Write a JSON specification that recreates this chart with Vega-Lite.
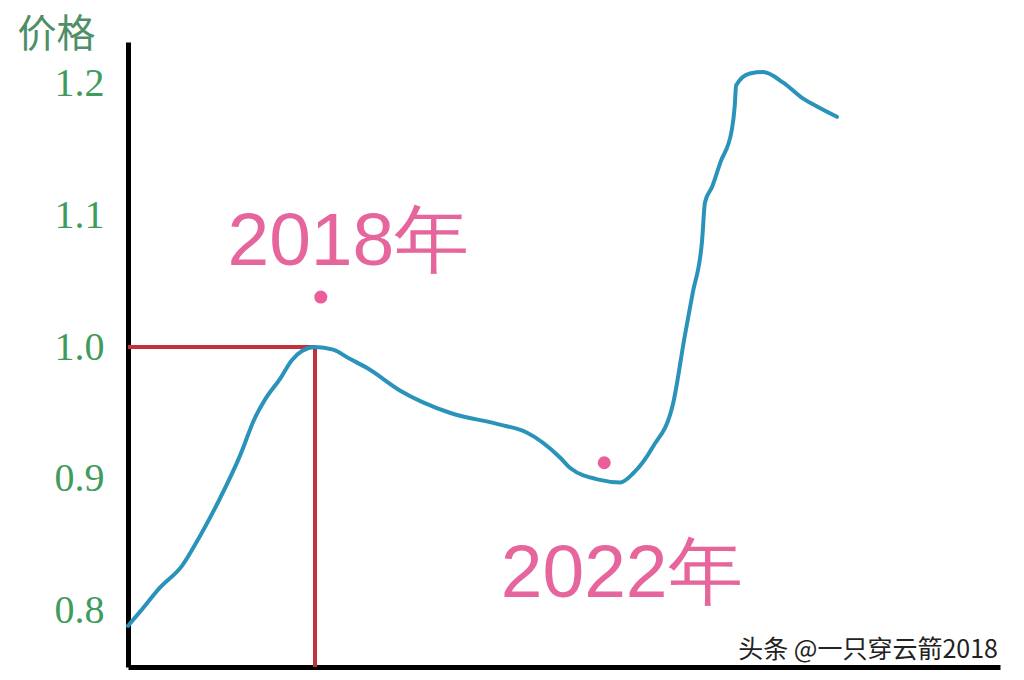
{
  "$schema": "https://vega.github.io/schema/vega-lite/v6.json",
  "description": "Hand-drawn style price curve, 2018 vs 2022.",
  "width": 872,
  "height": 625,
  "autosize": {"type": "none"},
  "padding": {"left": 128, "top": 42, "right": 24, "bottom": 13},
  "background": "#ffffff",
  "config": {"view": {"stroke": null}},
  "datasets": {
    "curve": [
      {"year": 2015.42, "price": 0.788},
      {"year": 2015.59, "price": 0.799},
      {"year": 2015.86, "price": 0.817},
      {"year": 2016.17, "price": 0.834},
      {"year": 2016.41, "price": 0.856},
      {"year": 2016.69, "price": 0.885},
      {"year": 2016.97, "price": 0.918},
      {"year": 2017.17, "price": 0.946},
      {"year": 2017.31, "price": 0.96},
      {"year": 2017.52, "price": 0.976},
      {"year": 2017.68, "price": 0.99},
      {"year": 2017.82, "price": 0.997},
      {"year": 2018.0, "price": 1.0},
      {"year": 2018.25, "price": 0.998},
      {"year": 2018.48, "price": 0.991},
      {"year": 2018.72, "price": 0.984},
      {"year": 2019.17, "price": 0.967},
      {"year": 2019.86, "price": 0.95},
      {"year": 2020.55, "price": 0.941},
      {"year": 2020.92, "price": 0.935},
      {"year": 2021.38, "price": 0.916},
      {"year": 2021.52, "price": 0.908},
      {"year": 2021.93, "price": 0.899},
      {"year": 2022.21, "price": 0.897},
      {"year": 2022.39, "price": 0.904},
      {"year": 2022.66, "price": 0.924},
      {"year": 2022.94, "price": 0.957},
      {"year": 2023.1, "price": 1.008},
      {"year": 2023.21, "price": 1.041},
      {"year": 2023.34, "price": 1.081},
      {"year": 2023.38, "price": 1.11},
      {"year": 2023.48, "price": 1.122},
      {"year": 2023.59, "price": 1.14},
      {"year": 2023.75, "price": 1.165},
      {"year": 2023.79, "price": 1.183},
      {"year": 2023.81, "price": 1.199},
      {"year": 2024.0, "price": 1.208},
      {"year": 2024.18, "price": 1.209},
      {"year": 2024.46, "price": 1.201},
      {"year": 2024.73, "price": 1.189},
      {"year": 2024.92, "price": 1.183},
      {"year": 2025.2, "price": 1.175}
    ],
    "guides": [
      {"x": 2015.42, "x2": 2018.0, "y": 1.0, "y2": 1.0},
      {"x": 2018.0, "x2": 2018.0, "y": 1.0, "y2": 0.7567}
    ],
    "dots": [
      {"year": 2018.08, "price": 1.038},
      {"year": 2021.99, "price": 0.912}
    ],
    "labels": [
      {"year": 2018.46, "price": 1.0624, "label": "2018年"},
      {"year": 2022.23, "price": 0.81, "label": "2022年"}
    ],
    "marks": [
      {"year": 2025.63, "price": 0.7635, "label": "头条 @一只穿云箭2018"}
    ]
  },
  "layer": [
    {
      "data": {"name": "guides"},
      "mark": {"type": "rule", "color": "#c0323c", "strokeWidth": 4},
      "encoding": {
        "x": {"field": "x", "type": "quantitative", "scale": {"domain": [2015.42, 2027.45], "nice": false, "zero": false},
          "axis": {"title": null, "labels": false, "ticks": false, "grid": false, "domainColor": "#000000", "domainWidth": 5}},
        "x2": {"field": "x2"},
        "y": {"field": "y", "type": "quantitative", "scale": {"domain": [0.7567, 1.2319], "nice": false, "zero": false},
          "axis": {"values": [0.8, 0.9, 1.0, 1.1, 1.2], "format": ".1f", "ticks": false, "grid": false,
            "domainColor": "#000000", "domainWidth": 5,
            "labelFont": "Liberation Serif", "labelFontSize": 40, "labelColor": "#3f9c5c", "labelPadding": 24,
            "title": "价格", "titleAngle": 0, "titleAlign": "left", "titleBaseline": "alphabetic",
            "titleX": -111, "titleY": 4, "titleFont": "Noto Sans CJK SC", "titleFontWeight": "normal",
            "titleFontSize": 39, "titleColor": "#4f8f68"}},
        "y2": {"field": "y2"}
      }
    },
    {
      "data": {"name": "curve"},
      "mark": {"type": "line", "color": "#2a93ba", "strokeWidth": 4, "strokeCap": "round", "strokeJoin": "round", "interpolate": "monotone"},
      "encoding": {
        "x": {"field": "year", "type": "quantitative"},
        "y": {"field": "price", "type": "quantitative"}
      }
    },
    {
      "data": {"name": "dots"},
      "mark": {"type": "point", "filled": true, "color": "#ea5f9b", "size": 170, "opacity": 1},
      "encoding": {
        "x": {"field": "year", "type": "quantitative"},
        "y": {"field": "price", "type": "quantitative"}
      }
    },
    {
      "data": {"name": "labels"},
      "mark": {"type": "text", "color": "#e5659c", "font": "Liberation Sans", "fontSize": 75, "align": "center", "baseline": "alphabetic"},
      "encoding": {
        "x": {"field": "year", "type": "quantitative"},
        "y": {"field": "price", "type": "quantitative"},
        "text": {"field": "label"}
      }
    },
    {
      "data": {"name": "marks"},
      "mark": {"type": "text", "color": "#222222", "font": "Noto Sans CJK SC", "fontSize": 25, "align": "center", "baseline": "alphabetic"},
      "encoding": {
        "x": {"field": "year", "type": "quantitative"},
        "y": {"field": "price", "type": "quantitative"},
        "text": {"field": "label"}
      }
    }
  ]
}
